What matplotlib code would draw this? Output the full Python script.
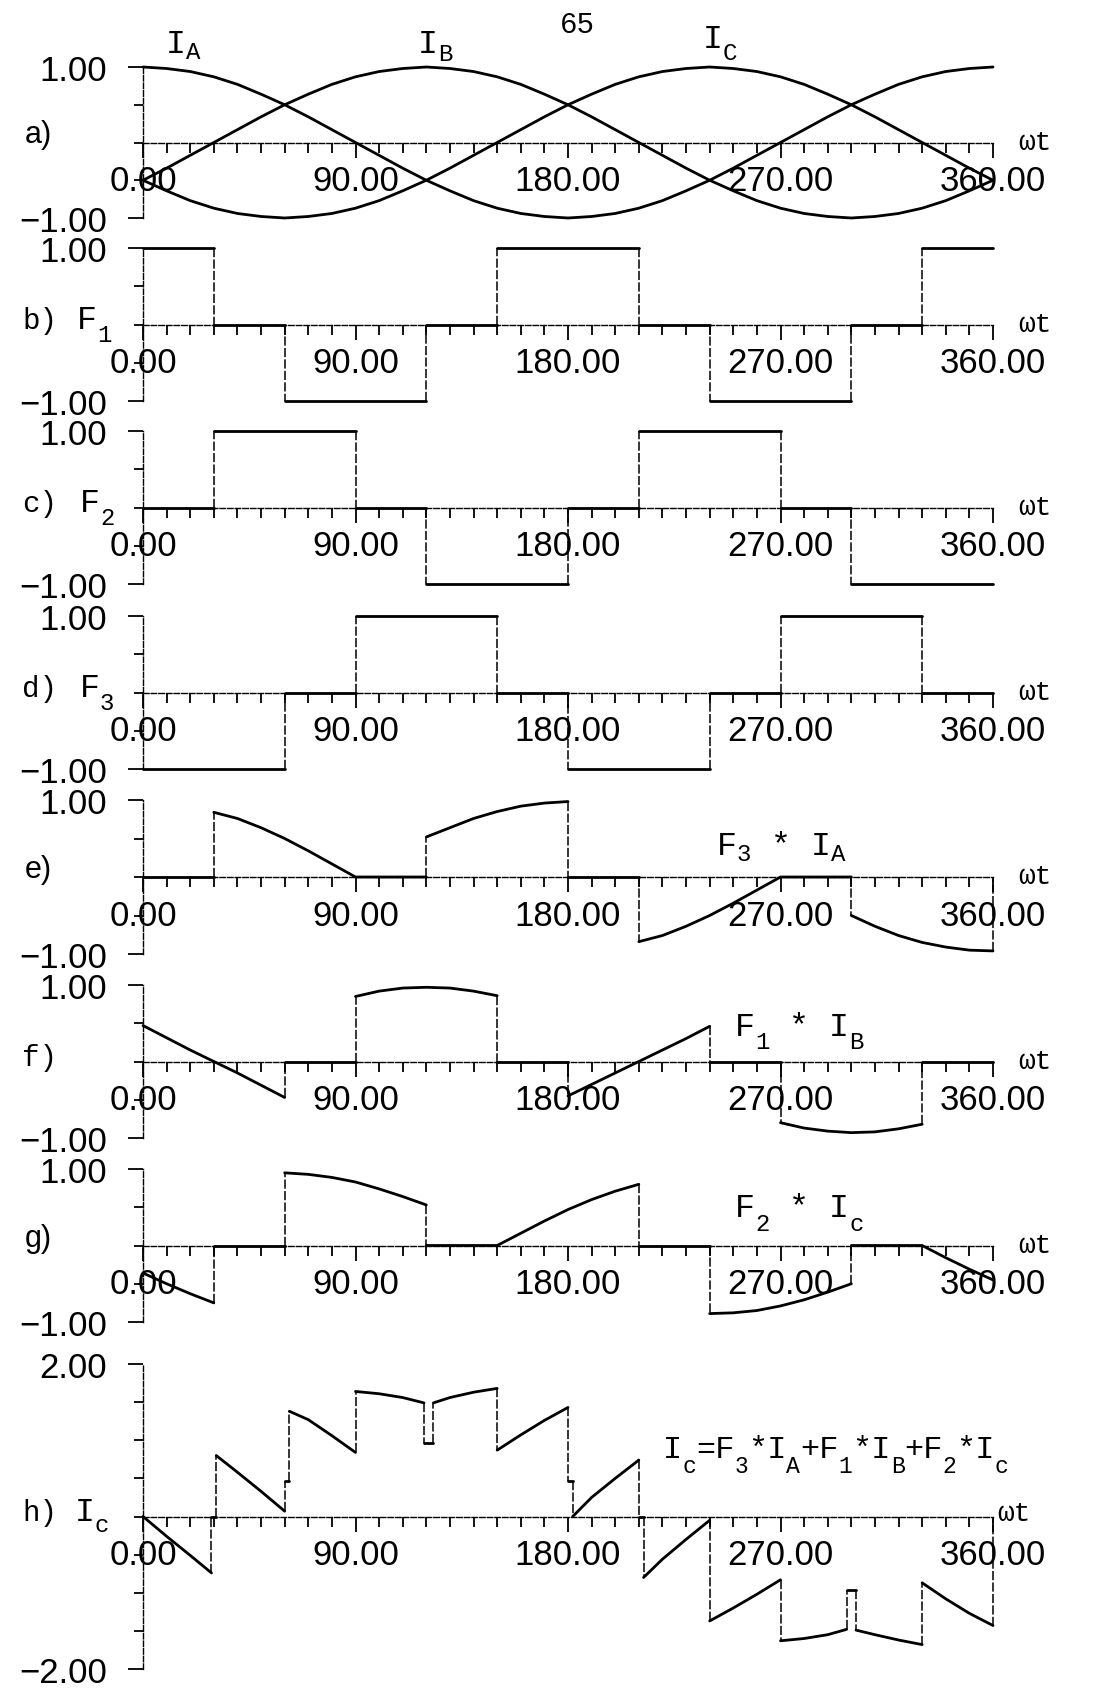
import re
import numpy as np
import matplotlib
matplotlib.use("Agg")
import matplotlib.pyplot as plt
from matplotlib.ticker import MultipleLocator
from matplotlib.transforms import offset_copy

SANS = ['Liberation Sans', 'DejaVu Sans']
MONO = ['Liberation Mono', 'DejaVu Sans Mono']
plt.rcParams['font.family'] = SANS

# ---- phase currents (wt in degrees) ----
ANGLE = list(range(0, 361, 10))
I_A = [1.00, 0.98, 0.94, 0.87, 0.77, 0.64, 0.50, 0.34, 0.17, 0.00, -0.17, -0.34, -0.50,
       -0.64, -0.77, -0.87, -0.94, -0.98, -1.00, -0.98, -0.94, -0.87, -0.77, -0.64, -0.50,
       -0.34, -0.17, 0.00, 0.17, 0.34, 0.50, 0.64, 0.77, 0.87, 0.94, 0.98, 1.00]
I_B = [-0.50, -0.34, -0.17, 0.00, 0.17, 0.34, 0.50, 0.64, 0.77, 0.87, 0.94, 0.98, 1.00,
       0.98, 0.94, 0.87, 0.77, 0.64, 0.50, 0.34, 0.17, 0.00, -0.17, -0.34, -0.50,
       -0.64, -0.77, -0.87, -0.94, -0.98, -1.00, -0.98, -0.94, -0.87, -0.77, -0.64, -0.50]
I_C = [-0.50, -0.64, -0.77, -0.87, -0.94, -0.98, -1.00, -0.98, -0.94, -0.87, -0.77, -0.64, -0.50,
       -0.34, -0.17, 0.00, 0.17, 0.34, 0.50, 0.64, 0.77, 0.87, 0.94, 0.98, 1.00,
       0.98, 0.94, 0.87, 0.77, 0.64, 0.50, 0.34, 0.17, 0.00, -0.17, -0.34, -0.50]

# ---- switching functions (corner points, repeated x = jump) ----
F1_X = [0, 30, 30, 60, 60, 120, 120, 150, 150, 210, 210, 240, 240, 300, 300, 330, 330, 360]
F1_Y = [1, 1, 0, 0, -1, -1, 0, 0, 1, 1, 0, 0, -1, -1, 0, 0, 1, 1]
F2_X = [0, 30, 30, 90, 90, 120, 120, 180, 180, 210, 210, 270, 270, 300, 300, 360]
F2_Y = [0, 0, 1, 1, 0, 0, -1, -1, 0, 0, 1, 1, 0, 0, -1, -1]
F3_X = [0, 60, 60, 90, 90, 150, 150, 180, 180, 240, 240, 270, 270, 330, 330, 360]
F3_Y = [-1, -1, 0, 0, 1, 1, 0, 0, -1, -1, 0, 0, 1, 1, 0, 0]

# ---- products ----
F3IA_X = [0, 30, 30, 40, 50, 60, 70, 80, 90, 120, 120, 130, 140, 150, 160, 170, 180, 180,
          210, 210, 220, 230, 240, 250, 260, 270, 300, 300, 310, 320, 330, 340, 350, 360, 360]
F3IA_Y = [0, 0, 0.84, 0.76, 0.64, 0.50, 0.34, 0.17, 0.00, 0.00, 0.52, 0.64, 0.76, 0.85, 0.92, 0.96, 0.98, 0.00,
          0.00, -0.84, -0.76, -0.64, -0.50, -0.34, -0.17, 0.00, 0.00, -0.50, -0.64, -0.76, -0.85, -0.91, -0.95, -0.96, 0.00]

F1IB_X = [0, 10, 20, 30, 40, 50, 60, 60, 90, 90, 100, 110, 120, 130, 140, 150, 150, 180,
          180, 190, 200, 210, 220, 230, 240, 240, 270, 270, 280, 290, 300, 310, 320, 330, 330, 360]
F1IB_Y = [0.47, 0.31, 0.15, 0.00, -0.15, -0.31, -0.47, 0.00, 0.00, 0.85, 0.92, 0.96, 0.97, 0.96, 0.92, 0.86, 0.00, 0.00,
          -0.45, -0.30, -0.15, 0.00, 0.15, 0.30, 0.46, 0.00, 0.00, -0.80, -0.87, -0.91, -0.93, -0.92, -0.88, -0.82, 0.00, 0.00]

F2IC_X = [0, 10, 20, 30, 30, 60, 60, 70, 80, 90, 100, 110, 120, 120, 150, 160, 170, 180,
          190, 200, 210, 210, 240, 240, 250, 260, 270, 280, 290, 300, 300, 330, 340, 350, 360]
F2IC_Y = [-0.36, -0.50, -0.63, -0.75, 0.00, 0.00, 0.95, 0.93, 0.89, 0.83, 0.74, 0.64, 0.53, 0.00, 0.00, 0.16, 0.32, 0.47,
          0.60, 0.71, 0.80, 0.00, 0.00, -0.89, -0.88, -0.85, -0.79, -0.71, -0.61, -0.50, 0.00, 0.00, -0.16, -0.31, -0.45]

# ---- resulting converter current ----
IC_X = [0, 10, 20, 29, 29, 31, 31, 40, 50, 60, 60, 62, 62, 70, 80, 90, 90, 100, 110, 119,
        119, 123, 123, 130, 140, 150, 150, 160, 170, 180, 180, 182, 182, 190, 200, 210, 210, 212, 212,
        220, 230, 240, 240, 250, 260, 270, 270, 280, 290, 298, 298, 302, 302, 310, 320, 330, 330,
        340, 350, 360, 360]
IC_Y = [0.00, -0.26, -0.51, -0.74, 0.00, 0.00, 0.80, 0.58, 0.33, 0.07, 0.47, 0.47, 1.38, 1.27, 1.06, 0.84, 1.64, 1.61, 1.56, 1.49,
        0.97, 0.97, 1.49, 1.56, 1.63, 1.68, 0.87, 1.07, 1.26, 1.43, 0.47, 0.47, 0.00, 0.25, 0.50, 0.74, 0.00, 0.00, -0.80,
        -0.56, -0.30, -0.05, -1.37, -1.20, -1.02, -0.83, -1.63, -1.60, -1.55, -1.48, -0.97, -0.97, -1.49, -1.55, -1.62, -1.68, -0.87,
        -1.08, -1.27, -1.43, 0.00]

XTICKS = [0, 90, 180, 270, 360]
XTICK_LABELS = ['0.00', '90.00', '180.00', '270.00', '360.00']
YTICK_LABELS_UNIT = ['\u22121.00', '1.00']
YTICK_LABELS_SUM = ['\u22122.00', '2.00']

W, H = 1113, 1690
X0, X1 = 143, 993          # pixel columns of 0 and 360 deg
ROWS = [(68, 219), (249, 402), (432, 585), (617, 770),
        (801, 955), (986, 1139), (1170, 1323), (1365, 1670)]

fig = plt.figure(figsize=(W / 100, H / 100), dpi=100)


def px2deg(px):
    return (px - X0) * 360.0 / (X1 - X0)


def typed(ax, x, y, s, size=24, drop=0.3, sub=0.72):
    """Typewriter text, '_{..}' marks a subscript."""
    parts = re.split(r'_\{(.*?)\}', s)
    dx = 0.0
    for k, txt in enumerate(parts):
        if not txt:
            continue
        is_sub = k % 2 == 1
        fs = size * sub if is_sub else size
        tr = offset_copy(ax.transData, fig=fig, x=dx, y=-drop * size if is_sub else 0.0, units='points')
        ax.text(x, y, txt, transform=tr, fontsize=fs, family=MONO,
                ha='left', va='baseline', clip_on=False)
        dx += 0.6 * fs * len(txt)


def trace(ax, xs, ys):
    xs = np.asarray(xs, float)
    ys = np.asarray(ys, float)
    cut = np.flatnonzero(np.diff(xs) == 0) + 1
    # jumps come out thin on the plotter
    for i in cut:
        ax.plot(xs[i - 1:i + 1], ys[i - 1:i + 1], color='k', lw=1.1,
                ls=(0, (6, 1.5)), clip_on=False)
    for sx, sy in zip(np.split(xs, cut), np.split(ys, cut)):
        if len(sx) > 1:
            ax.plot(sx, sy, color='k', lw=2.0, solid_joinstyle='round',
                    solid_capstyle='round', clip_on=False)


def style(ax, lim, ylabels):
    ax.set_xlim(0, 360)
    ax.set_ylim(-lim, lim)
    ax.patch.set_visible(False)
    for s in ('top', 'right'):
        ax.spines[s].set_visible(False)
    ax.spines['bottom'].set_position(('data', 0))
    for s in ('left', 'bottom'):
        ax.spines[s].set_linewidth(1.0)
        ax.spines[s].set_linestyle((0, (4, 1.5)))
    ax.set_xticks(XTICKS, labels=XTICK_LABELS)
    ax.xaxis.set_minor_locator(MultipleLocator(10))
    ax.set_yticks([-lim, lim], labels=ylabels)
    ax.yaxis.set_minor_locator(MultipleLocator(0.5))
    ax.tick_params(which='both', direction='out', width=1.3, labelsize=25)
    ax.tick_params(axis='x', which='major', length=10.8, pad=5)
    ax.tick_params(axis='x', which='minor', length=7)
    ax.tick_params(axis='y', which='major', length=10.8, pad=15)
    ax.tick_params(axis='y', which='minor', length=6.7)
    if lim == 1:
        ax.text(px2deg(1018), -0.08, '\u03c9t', fontsize=20, family=MONO, ha='left', va='baseline')
    else:
        ax.text(px2deg(997), -0.04, '\u03c9t', fontsize=20, family=MONO, ha='left', va='baseline')


axes = []
for k, (top, bot) in enumerate(ROWS):
    ax = fig.add_axes([X0 / W, 1 - bot / H, (X1 - X0) / W, (bot - top) / H])
    lim = 2 if k == 7 else 1
    style(ax, lim, YTICK_LABELS_SUM if lim == 2 else YTICK_LABELS_UNIT)
    axes.append(ax)

ax_a, ax_b, ax_c, ax_d, ax_e, ax_f, ax_g, ax_h = axes

for series in (I_A, I_B, I_C):
    trace(ax_a, ANGLE, series)
trace(ax_b, F1_X, F1_Y)
trace(ax_c, F2_X, F2_Y)
trace(ax_d, F3_X, F3_Y)
trace(ax_e, F3IA_X, F3IA_Y)
trace(ax_f, F1IB_X, F1IB_Y)
trace(ax_g, F2IC_X, F2IC_Y)
trace(ax_h, IC_X, IC_Y)

# curve names above panel a
typed(ax_a, px2deg(166), 1.20, 'I_{A}', drop=0.18)
typed(ax_a, px2deg(418), 1.20, 'I_{B}', drop=0.25)
typed(ax_a, px2deg(703), 1.27, 'I_{C}', drop=0.38)
fig.text(577 / W, 1 - 33 / H, '65', ha='center', va='baseline', fontsize=21, family=MONO)

# panel letters
for ax, lab in ((ax_a, 'a)'), (ax_e, 'e)'), (ax_g, 'g)')):
    ax.text(px2deg(25), 0, lab, fontsize=22, ha='left', va='baseline')
for ax, lab in ((ax_b, 'b)'), (ax_c, 'c)'), (ax_d, 'd)'), (ax_f, 'f)'), (ax_h, 'h)')):
    ax.text(px2deg(22), -0.05, lab, fontsize=21, family=MONO, ha='left', va='baseline')
typed(ax_b, px2deg(77), -0.05, 'F_{1}', drop=0.37)
typed(ax_c, px2deg(80), -0.05, 'F_{2}', drop=0.37)
typed(ax_d, px2deg(80), -0.05, 'F_{3}', drop=0.37)
typed(ax_h, px2deg(75), -0.04, 'I_{c}', drop=0.34)

# product labels
typed(ax_e, px2deg(717), 0.30, 'F_{3} * I_{A}', drop=0.18)
typed(ax_f, px2deg(735), 0.35, 'F_{1} * I_{B}', drop=0.40)
typed(ax_g, px2deg(735), 0.38, 'F_{2} * I_{c}', drop=0.42)
typed(ax_h, px2deg(663), 0.78, 'I_{c}=F_{3}*I_{A}+F_{1}*I_{B}+F_{2}*I_{c}', size=23, drop=0.46)

fig.savefig('out.png', dpi=100)
